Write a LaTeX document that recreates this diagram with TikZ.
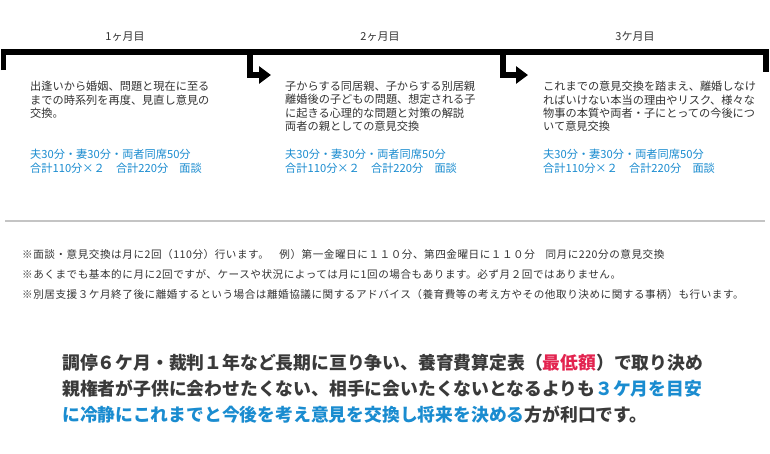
\documentclass[tikz,border=0pt]{standalone}
\usepackage{fontspec}
\setmainfont{Noto Sans CJK JP}
\usetikzlibrary{arrows.meta}
\definecolor{txt}{HTML}{333333}
\definecolor{blu}{HTML}{1A8CD0}
\definecolor{redc}{HTML}{E3234F}
\definecolor{bot}{HTML}{3A3A3A}
\definecolor{sep}{HTML}{C4C4C4}
\begin{document}
\begin{tikzpicture}[x=1pt,y=-1pt,
  bar/.style={line width=5.5pt,black},
  arr/.style={bar,-{Triangle[length=12pt,width=17pt]}},
  month/.style={inner sep=0,font=\fontsize{11}{13}\selectfont,text=txt},
  body/.style={anchor=north west,inner sep=0,align=left,font=\fontsize{11.2}{13.4}\selectfont,text=txt},
  cost/.style={anchor=north west,inner sep=0,align=left,font=\fontsize{11.2}{13.4}\selectfont,text=blu},
  note/.style={anchor=west,inner sep=0,font=\fontsize{10.6}{12}\selectfont\addfontfeatures{LetterSpace=5},text=txt},
  big/.style={anchor=north west,inner sep=0,align=left,font=\fontsize{17.8}{26}\selectfont\bfseries,text=bot}]
\useasboundingbox[fill=white] (0,0) rectangle (770,453);

% bracket
\coordinate (s1) at (3.5,70);
\coordinate (t1) at (3.5,52);
\coordinate (t4) at (766,52);
\coordinate (e4) at (766,72);
\draw[bar] (s1) -- (t1) -- (t4) -- (e4);
\coordinate (j2) at (250,52);
\coordinate (a2) at (271,75);
\coordinate (j3) at (503,52);
\coordinate (a3) at (528,75);
\draw[arr] (j2) |- (a2);
\draw[arr] (j3) |- (a3);

% month labels
\node[month] (m1) at (125,37) {1ヶ月目};
\node[month] (m2) at (380,37) {2ヶ月目};
\node[month] (m3) at (635,37) {3ケ月目};

% blocks
\node[body] (b1) at (30,81) {出逢いから婚姻、問題と現在に至る\\までの時系列を再度、見直し意見の\\交換。};
\node[body] (b2) at (285,81) {子からする同居親、子からする別居親\\離婚後の子どもの問題、想定される子\\に起きる心理的な問題と対策の解説\\両者の親としての意見交換};
\node[body] (b3) at (543,81) {これまでの意見交換を踏まえ、離婚しなけ\\ればいけない本当の理由やリスク、様々な\\物事の本質や両者・子にとっての今後につ\\いて意見交換};

\node[cost] (c1) at (30,149) {夫30分・妻30分・両者同席50分\\合計110分×２\quad 合計220分\quad 面談};
\node[cost] (c2) at (285,149) {夫30分・妻30分・両者同席50分\\合計110分×２\quad 合計220分\quad 面談};
\node[cost] (c3) at (543,149) {夫30分・妻30分・両者同席50分\\合計110分×２\quad 合計220分\quad 面談};

% separator
\coordinate (r1) at (5,221);
\coordinate (r2) at (765,221);
\draw[sep,line width=1.2pt] (r1) -- (r2);

% notes
\node[note] (n1) at (22,254) {※面談・意見交換は月に2回（110分）行います。\quad 例）第一金曜日に１１０分、第四金曜日に１１０分\quad 同月に220分の意見交換};
\node[note] (n2) at (22,274) {※あくまでも基本的に月に2回ですが、ケースや状況によっては月に1回の場合もあります。必ず月２回ではありません。};
\node[note] (n3) at (22,294) {※別居支援３ケ月終了後に離婚するという場合は離婚協議に関するアドバイス（養育費等の考え方やその他取り決めに関する事柄）も行います。};

% conclusion
\node[big] (k) at (62,354) {調停６ケ月・裁判１年など長期に亘り争い、養育費算定表（\textcolor{redc}{最低額}）で取り決め\\親権者が子供に会わせたくない、相手に会いたくないとなるよりも\textcolor{blu}{３ケ月を目安}\\\textcolor{blu}{に冷静にこれまでと今後を考え意見を交換し将来を決める}方が利口です。};
\end{tikzpicture}
\end{document}
